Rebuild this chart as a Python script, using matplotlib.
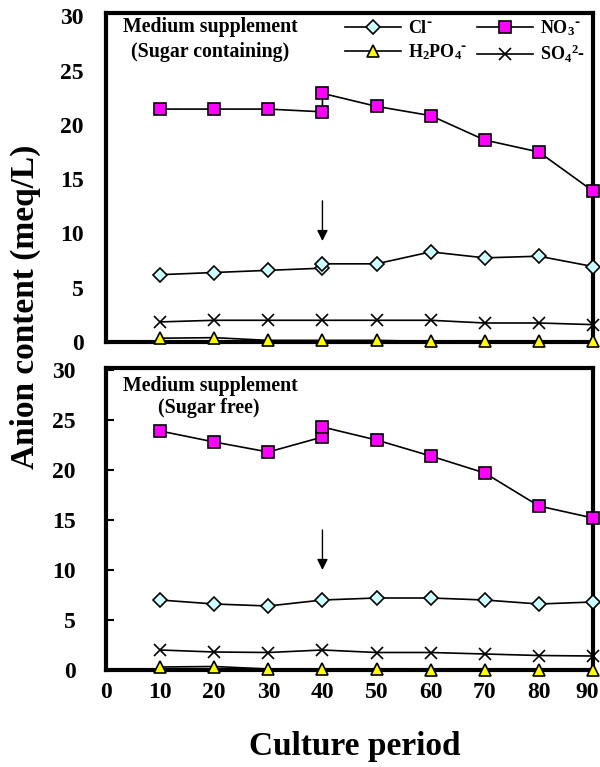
import matplotlib
matplotlib.use('Agg')
import matplotlib.pyplot as plt
from matplotlib.transforms import ScaledTranslation

plt.rcParams['font.family'] = ['Liberation Serif', 'DejaVu Serif']
plt.rcParams['font.weight'] = 'bold'
plt.rcParams['mathtext.default'] = 'regular'

# Culture period (days); day 40 is sampled twice for some ions (before/after supplement)
days = [10, 20, 30, 40, 50, 60, 70, 80, 90]
days_split = [10, 20, 30, 40, 40, 50, 60, 70, 80, 90]
y_ticks = [0, 5, 10, 15, 20, 25, 30]
x_ticks = [0, 10, 20, 30, 40, 50, 60, 70, 80, 90]

# Sugar-containing supplement (meq/L)
sc_cl = [6.2, 6.4, 6.6, 6.8, 7.2, 7.2, 8.3, 7.75, 7.9, 6.95]
sc_no3 = [21.45, 21.45, 21.45, 21.2, 22.9, 21.7, 20.85, 18.6, 17.5, 13.9]
sc_h2po4 = [0.35, 0.4, 0.15, 0.15, 0.15, 0.05, 0.05, 0.05, 0.05]
sc_so4 = [1.85, 2.0, 2.0, 2.0, 2.0, 2.0, 1.75, 1.75, 1.6]
sc_arrow = (40, 13.0, 9.3)

# Sugar-free supplement (meq/L)
sf_cl = [7.0, 6.6, 6.4, 7.0, 7.2, 7.2, 7.0, 6.6, 6.8]
sf_no3 = [23.9, 22.8, 21.8, 23.3, 24.3, 23.0, 21.4, 19.7, 16.4, 15.2]
sf_h2po4 = [0.3, 0.35, 0.1, 0.1, 0.1, 0.05, 0.05, 0.05, 0.05]
sf_so4 = [2.0, 1.8, 1.75, 2.0, 1.75, 1.75, 1.6, 1.45, 1.4]
sf_arrow = (40, 14.0, 10.0)

labels = ['Cl$^{\\text{-}}$', 'NO$_{3}$$^{\\text{-}}$',
          'H$_{2}$PO$_{4}$$^{\\text{-}}$', 'SO$_{4}$$^{2}$-']

W, H = 600, 767
fig = plt.figure(figsize=(W / 100, H / 100), dpi=100)


def px_axes(left, top, right, bottom):
    return fig.add_axes([left / W, 1 - bottom / H, (right - left) / W, (bottom - top) / H])


ax_top = px_axes(106, 13, 593, 342)
ax_bot = px_axes(106, 368, 593, 670)

line_kw = dict(color='black', lw=1.2, clip_on=False, zorder=5)


def draw_panel(ax, cl_x, cl, no3_x, no3, h2po4, so4, arrow, ytop):
    h_cl, = ax.plot(cl_x, cl, marker='D', ms=7, mfc='#ccffff', mec='black', mew=1.2,
                    label=labels[0], **line_kw)
    h_no3, = ax.plot(no3_x, no3, marker='s', ms=8, mfc='#ff00ff', mec='black', mew=1.2,
                     label=labels[1], **line_kw)
    h_p, = ax.plot(days, h2po4, marker='^', ms=9, mfc='#ffff00', mec='black', mew=1.2,
                   label=labels[2], **line_kw)
    h_s, = ax.plot(days, so4, marker='x', ms=9, mec='black', mew=1.2,
                   label=labels[3], **line_kw)
    ax.annotate('', xy=(arrow[0], arrow[2]), xytext=(arrow[0], arrow[1]),
                arrowprops=dict(arrowstyle='-|>', color='black', lw=1.0,
                                mutation_scale=16, shrinkA=0, shrinkB=0))
    ax.set_xlim(0, 90)
    ax.set_ylim(0, ytop)
    ax.set_yticks(y_ticks)
    ax.set_xticks(x_ticks)
    for sp in ax.spines.values():
        sp.set_linewidth(3)
        sp.set_zorder(4)
    return [h_cl, h_p, h_no3, h_s]


handles = draw_panel(ax_top, days_split, sc_cl, days_split, sc_no3, sc_h2po4, sc_so4,
                     sc_arrow, 30.3)
draw_panel(ax_bot, days, sf_cl, days_split, sf_no3, sf_h2po4, sf_so4, sf_arrow, 30.2)

ax_top.tick_params(axis='both', length=0, labelsize=17, pad=16)
ax_top.tick_params(axis='x', labelbottom=False)
ax_bot.tick_params(axis='y', direction='in', length=6, width=1.5, labelsize=17, pad=22)
ax_bot.tick_params(axis='x', length=0, labelsize=17, pad=9)

# keep the last x tick label inside the figure
last = ax_bot.get_xticklabels()[-1]
last.set_transform(last.get_transform() + ScaledTranslation(-6 / 100, 0, fig.dpi_scale_trans))

# panel captions, positioned in figure pixels
captions = [(210, 27, 'Medium supplement'), (210, 52, '(Sugar containing)'),
            (210, 386, 'Medium supplement'), (209, 408, '(Sugar free)')]
for x, y, s in captions:
    fig.text(x / W, 1 - y / H, s, ha='center', va='center', fontsize=14.3)

ax_top.legend(handles=handles, ncol=2, loc='upper left', frameon=False,
              bbox_to_anchor=(345 / W, 1 - 18 / H), bbox_transform=fig.transFigure,
              borderpad=0, borderaxespad=0, handlelength=3.1, handletextpad=0.4,
              columnspacing=0.5, labelspacing=0.3, fontsize=13)

fig.text(25 / W, 1 - 307 / H, 'Anion content (meq/L)', rotation=90, ha='center',
         va='center', fontsize=24)
fig.text(355 / W, 1 - 747 / H, 'Culture period', ha='center', va='center', fontsize=24)

fig.savefig('out.png', dpi=100)
